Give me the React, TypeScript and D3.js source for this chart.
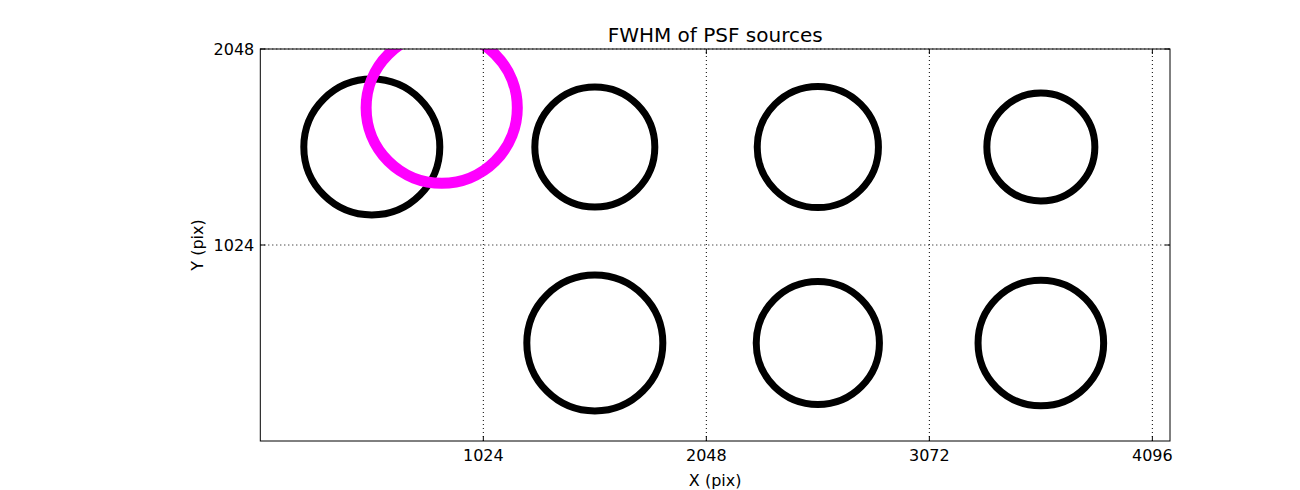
import React from "react";
import * as d3 from "d3";

// Data
const srcX = [512, 1536, 2560, 3584, 1536, 2560, 3584];
const srcY = [1536, 1536, 1536, 1536, 512, 512, 512];
const srcFwhm = [3.4, 3.0, 3.03, 2.7, 3.4, 3.08, 3.14];
const refX = [833];
const refY = [1741];
const refFwhm = [3.78];
const xTicks = [1024, 2048, 3072, 4096];
const yTicks = [1024, 2048];

const W = 1300;
const H = 490;
const M = { left: 260.3, right: 130, top: 49, bottom: 49 };

export default function App() {
  const x = d3.scaleLinear().domain([0, 4177]).range([M.left, W - M.right]);
  const y = d3.scaleLinear().domain([0, 2048]).range([H - M.bottom, M.top]);
  const r = d3.scaleLinear().domain([0, 1]).range([0, 20]);
  const x0 = x.range()[0], x1 = x.range()[1];
  const y0 = y.range()[0], y1 = y.range()[1];
  const font = "'DejaVu Sans', sans-serif";
  const tl = 5;
  return (
    <svg width={W} height={H} style={{ position: "absolute", left: 0, top: 0, background: "#fff" }} fontFamily={font}>
      <defs>
        <clipPath id="plotclip">
          <rect x={x0} y={y1} width={x1 - x0} height={y0 - y1} />
        </clipPath>
      </defs>
      {/* grid */}
      {xTicks.map((t) => (
        <line key={"gx" + t} x1={x(t)} x2={x(t)} y1={y0} y2={y1} stroke="#000" strokeWidth={1} strokeDasharray="1,3" />
      ))}
      {yTicks.map((t) => (
        <line key={"gy" + t} x1={x0} x2={x1} y1={y(t)} y2={y(t)} stroke="#000" strokeWidth={1} strokeDasharray="1,3" />
      ))}
      <g clipPath="url(#plotclip)">
        {srcX.map((cx, i) => (
          <circle key={"s" + i} cx={x(cx)} cy={y(srcY[i])} r={r(srcFwhm[i])} fill="none" stroke="#000" strokeWidth={7} />
        ))}
        {refX.map((cx, i) => (
          <circle key={"r" + i} cx={x(cx)} cy={y(refY[i])} r={r(refFwhm[i])} fill="none" stroke="#ff00ff" strokeWidth={11} />
        ))}
      </g>
      {/* frame */}
      <rect x={x0} y={y1} width={x1 - x0} height={y0 - y1} fill="none" stroke="#000" strokeWidth={1} />
      {/* ticks */}
      {xTicks.map((t) => (
        <g key={"tx" + t}>
          <line x1={x(t)} x2={x(t)} y1={y0} y2={y0 - tl} stroke="#000" />
          <line x1={x(t)} x2={x(t)} y1={y1} y2={y1 + tl} stroke="#000" />
          <text x={x(t)} y={y0 + 20} textAnchor="middle" fontSize={16}>{t}</text>
        </g>
      ))}
      {yTicks.map((t) => (
        <g key={"ty" + t}>
          <line x1={x0} x2={x0 + tl} y1={y(t)} y2={y(t)} stroke="#000" />
          <line x1={x1} x2={x1 - tl} y1={y(t)} y2={y(t)} stroke="#000" />
          <text x={x0 - 6} y={y(t)} dy="0.35em" textAnchor="end" fontSize={16}>{t}</text>
        </g>
      ))}
      <text x={(x0 + x1) / 2} y={42} textAnchor="middle" fontSize={20}>FWHM of PSF sources</text>
      <text x={(x0 + x1) / 2} y={486} textAnchor="middle" fontSize={16}>X (pix)</text>
      <text transform={`translate(203,${(y0 + y1) / 2}) rotate(-90)`} textAnchor="middle" fontSize={16}>Y (pix)</text>
    </svg>
  );
}
